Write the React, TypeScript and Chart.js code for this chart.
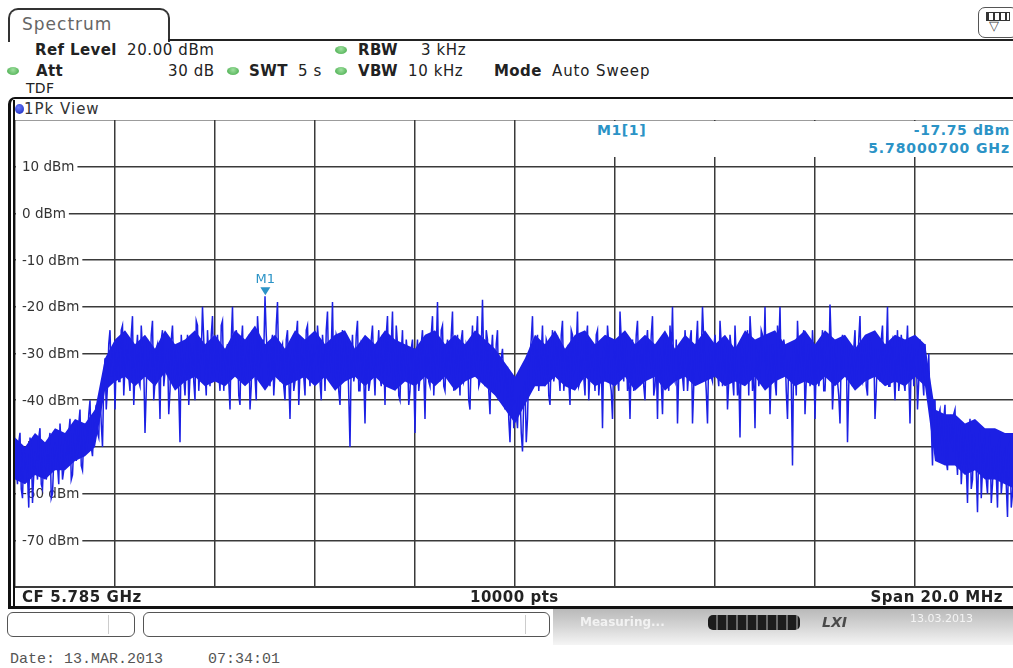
import { useEffect, useRef } from "react"
import { Chart, registerables } from "chart.js"
import type { Plugin } from "chart.js"

Chart.register(...registerables)

// Sweep settings (frequency offsets in MHz from the centre frequency)
const centerGHz = 5.785
const spanStartMHz = -10
const pointStepMHz = 0.05
const coreStepMHz = 0.2

// Peak trace levels in dBm, one array per 2 MHz grid division (left to right).
// "a" samples sit on the 0.05 MHz grid, "b" samples half a step later.
const div1a = [
  -50, -58, -47, -61, -52, -56, -48, -62, -51, -57,
  -46, -59, -50, -55, -47, -60, -49, -54, -45, -57,
  -48, -53, -44, -56, -46, -51, -42, -55, -45, -49,
  -40, -52, -43, -47, -38, -50, -31, -37, -25, -33,
]
const div1b = [
  -55, -49, -59, -51, -54, -63, -50, -56, -53, -48,
  -58, -52, -57, -49, -61, -53, -51, -58, -50, -55,
  -52, -47, -57, -50, -53, -45, -54, -48, -51, -43,
  -50, -46, -41, -48, -45, -36, -42, -28, -35, -29,
]
const div2a = [
  -42, -28, -36, -24, -33, -27, -38, -22, -34, -26,
  -37, -29, -47, -27, -35, -23, -36, -28, -44, -25,
  -34, -29, -38, -24, -36, -30, -49, -31, -39, -26,
  -35, -28, -40, -24, -33, -20, -34, -25, -37, -22,
]
const div2b = [
  -31, -36, -25, -39, -29, -35, -26, -41, -30, -36,
  -24, -33, -38, -31, -26, -40, -29, -34, -27, -37,
  -31, -43, -27, -33, -29, -38, -26, -35, -32, -41,
  -28, -36, -23, -38, -30, -27, -39, -31, -26, -35,
]
const div3a = [
  -35, -26, -38, -23, -33, -28, -42, -20, -34, -27,
  -41, -24, -36, -29, -42, -25, -35, -22, -33, -27,
  -17.75, -31, -37, -26, -34, -19, -36, -28, -40, -25,
  -44, -29, -36, -23, -34, -27, -39, -24, -37, -28,
]
const div3b = [
  -29, -34, -24, -38, -30, -36, -27, -33, -25, -39,
  -28, -35, -31, -26, -37, -30, -40, -27, -36, -30,
  -26, -35, -28, -39, -24, -33, -29, -37, -27, -35,
  -31, -38, -26, -41, -30, -35, -25, -33, -30, -36,
]
const div4a = [
  -30, -24, -36, -26, -38, -21, -33, -19, -37, -27,
  -41, -25, -35, -28, -50, -26, -34, -23, -38, -29,
  -45, -27, -36, -24, -39, -30, -35, -26, -41, -22,
  -33, -21, -37, -28, -40, -25, -34, -30, -38, -27,
]
const div4b = [
  -33, -28, -40, -30, -25, -35, -29, -36, -26, -38,
  -30, -33, -27, -39, -31, -36, -26, -38, -28, -35,
  -31, -38, -27, -33, -29, -25, -37, -31, -26, -35,
  -28, -36, -24, -39, -30, -36, -27, -41, -29, -34,
]
const div5a = [
  -47, -27, -35, -25, -44, -28, -37, -22, -33, -19,
  -36, -24, -38, -27, -34, -21, -36, -26, -39, -25,
  -35, -29, -42, -24, -33, -22, -36, -18.5, -37, -27,
  -43, -26, -38, -25, -36, -29, -42, -33, -49, -35,
]
const div5b = [
  -31, -38, -28, -34, -30, -36, -26, -39, -29, -33,
  -25, -37, -30, -35, -26, -38, -30, -33, -27, -36,
  -28, -40, -30, -35, -27, -37, -29, -32, -25, -38,
  -30, -35, -28, -40, -31, -36, -33, -44, -38, -46,
]
const div6a = [
  -40, -46, -38, -51, -36, -44, -30, -22, -35, -26,
  -33, -24, -37, -28, -41, -25, -34, -27, -38, -23,
  -35, -29, -41, -26, -33, -21, -36, -27, -39, -24,
  -34, -28, -38, -25, -35, -46, -30, -24, -36, -44,
]
const div6b = [
  -43, -38, -47, -40, -49, -33, -27, -36, -29, -38,
  -30, -35, -27, -39, -31, -36, -28, -34, -26, -38,
  -30, -36, -25, -34, -29, -37, -31, -35, -27, -40,
  -30, -33, -26, -39, -31, -29, -36, -28, -38, -31,
]
const div7a = [
  -27, -35, -21, -33, -26, -38, -44, -27, -34, -23,
  -36, -28, -40, -25, -33, -22, -37, -44, -29, -43,
  -26, -34, -24, -20, -36, -45, -28, -35, -25, -38,
  -27, -45, -30, -23, -35, -20, -33, -45, -28, -36,
]
const div7b = [
  -31, -38, -27, -36, -29, -34, -31, -38, -26, -35,
  -30, -37, -28, -33, -26, -39, -31, -29, -36, -31,
  -28, -38, -30, -35, -27, -34, -31, -38, -29, -34,
  -25, -37, -28, -34, -30, -27, -38, -30, -35, -29,
]
const div8a = [
  -26, -34, -23, -37, -28, -42, -26, -35, -24, -39,
  -48, -29, -36, -25, -22, -38, -46, -30, -35, -26,
  -20, -34, -43, -28, -36, -24, -20, -35, -29, -44,
  -31, -54, -33, -23, -36, -27, -43, -30, -37, -25,
]
const div8b = [
  -31, -37, -28, -33, -30, -36, -29, -39, -31, -34,
  -28, -36, -30, -39, -27, -33, -29, -37, -25, -32,
  -36, -28, -34, -30, -39, -29, -35, -27, -38, -31,
  -36, -28, -39, -30, -33, -25, -36, -28, -35, -31,
]
const div9a = [
  -44, -28, -35, -25, -38, -27, -19.5, -42, -30, -36,
  -45, -26, -34, -49, -29, -37, -25, -33, -22, -36,
  -28, -39, -26, -35, -44, -29, -36, -24, -34, -20,
  -37, -27, -40, -25, -35, -29, -38, -24, -45, -28,
]
const div9b = [
  -32, -37, -29, -38, -31, -35, -28, -36, -27, -39,
  -30, -34, -28, -37, -33, -29, -36, -27, -35, -30,
  -37, -26, -33, -29, -38, -31, -27, -35, -30, -37,
  -28, -34, -31, -38, -26, -36, -30, -34, -31, -37,
]
const div10a = [
  -33, -42, -27, -35, -28, -37, -41, -54, -40, -49,
  -42, -52, -41, -55, -44, -50, -42, -56, -45, -53,
  -47, -62, -44, -57, -49, -64, -46, -55, -48, -60,
  -47, -58, -50, -63, -48, -57, -51, -65, -49, -60,
]
const div10b = [
  -29, -36, -31, -39, -33, -30, -45, -40, -51, -43,
  -48, -44, -53, -45, -49, -43, -51, -47, -58, -46,
  -54, -49, -59, -47, -55, -50, -61, -49, -57, -51,
  -62, -50, -56, -49, -60, -52, -58, -50, -63, -54,
]

const levelsA = [
  ...div1a, ...div2a, ...div3a, ...div4a, ...div5a,
  ...div6a, ...div7a, ...div8a, ...div9a, ...div10a,
]
const levelsB = [
  ...div1b, ...div2b, ...div3b, ...div4b, ...div5b,
  ...div6b, ...div7b, ...div8b, ...div9b, ...div10b,
]

// Saturated body of the noise band (upper / lower edge, every 0.2 MHz)
const coreUpper = [
  -48, -50, -47, -49, -46, -47, -44, -45, -42, -31,
  -27, -25, -28, -26, -29, -25, -28, -27, -25, -28,
  -26, -29, -25, -27, -24, -28, -26, -29, -25, -27,
  -25, -28, -26, -25, -29, -26, -28, -25, -27, -28,
  -29, -26, -25, -28, -26, -28, -25, -27, -29, -32,
  -35, -31, -26, -28, -25, -29, -26, -25, -28, -26,
  -27, -25, -28, -26, -28, -25, -29, -26, -28, -25,
  -28, -26, -29, -25, -27, -26, -25, -28, -27, -25,
  -28, -25, -27, -26, -29, -26, -25, -28, -26, -27,
  -26, -28, -42, -43, -43, -45, -44, -46, -46, -47,
  -47,
]
const coreLower = [
  -57, -58, -56, -57, -55, -55, -53, -52, -50, -38,
  -36, -35, -37, -35, -37, -34, -38, -36, -35, -37,
  -36, -37, -35, -37, -35, -38, -35, -37, -36, -35,
  -37, -35, -38, -36, -35, -37, -35, -37, -38, -36,
  -37, -35, -37, -35, -38, -36, -35, -37, -39, -42,
  -45, -41, -37, -37, -35, -37, -38, -35, -37, -36,
  -37, -35, -38, -36, -35, -38, -36, -35, -37, -36,
  -35, -37, -36, -37, -35, -38, -36, -35, -37, -36,
  -37, -35, -37, -35, -38, -36, -35, -37, -36, -37,
  -35, -37, -53, -54, -54, -56, -55, -57, -57, -58,
  -59,
]

const yTickLabels = [10, 0, -10, -20, -30, -40, -50, -60, -70]

// Marker M1
const markerFreqMHz = [-4.993]
const markerLevelDbm = [-17.75]

const MARKER_COLOR = "#2b93c6"
const TRACE_COLOR = "rgb(28, 32, 228)"
const GRID_COLOR = "#3a3a3a"

const spectrumOverlay: Plugin<"line"> = {
  id: "spectrumOverlay",
  beforeDatasetsDraw(chart) {
    const { ctx, chartArea, scales } = chart
    ctx.save()
    ctx.font = '13.5px "DejaVu Sans"'
    ctx.textBaseline = "middle"
    yTickLabels.forEach((v) => {
      const y = scales.y.getPixelForValue(v)
      const text = `${v} dBm`
      const w = ctx.measureText(text).width
      ctx.fillStyle = "#fff"
      ctx.fillRect(chartArea.left + 1, y - 8, w + 9, 16)
      ctx.fillStyle = "#333"
      ctx.fillText(text, chartArea.left + 7, y + 1)
    })
    ctx.restore()
  },
  afterDatasetsDraw(chart) {
    const { ctx, scales } = chart
    const x = scales.x.getPixelForValue(markerFreqMHz[0])
    const y = scales.y.getPixelForValue(markerLevelDbm[0])
    ctx.save()
    ctx.fillStyle = MARKER_COLOR
    ctx.beginPath()
    ctx.moveTo(x - 5, y - 9)
    ctx.lineTo(x + 5, y - 9)
    ctx.lineTo(x, y - 1)
    ctx.closePath()
    ctx.fill()
    ctx.font = '13px "DejaVu Sans"'
    ctx.textAlign = "center"
    ctx.textBaseline = "middle"
    ctx.fillText("M1", x, y - 17)
    ctx.restore()
  },
}

function SpectrumChart() {
  const chartRef = useRef<HTMLCanvasElement>(null)
  const chartInstance = useRef<Chart | null>(null)

  useEffect(() => {
    if (!chartRef.current) return
    if (chartInstance.current) chartInstance.current.destroy()

    // interleave the two sample sets into one sweep
    const tracePoints: { x: number; y: number }[] = []
    levelsA.forEach((level, i) => {
      tracePoints.push({ x: spanStartMHz + i * pointStepMHz, y: level })
      tracePoints.push({ x: spanStartMHz + (i + 0.5) * pointStepMHz, y: levelsB[i] })
    })
    const upperPoints = coreUpper.map((level, i) => ({ x: spanStartMHz + i * coreStepMHz, y: level }))
    const lowerPoints = coreLower.map((level, i) => ({ x: spanStartMHz + i * coreStepMHz, y: level }))

    chartInstance.current = new Chart(chartRef.current, {
      type: "line",
      data: {
        datasets: [
          {
            label: "1Pk View",
            data: tracePoints,
            borderColor: TRACE_COLOR,
            borderWidth: 1.5,
            pointRadius: 0,
            tension: 0,
            fill: false,
          },
          {
            label: "core upper",
            data: upperPoints,
            borderWidth: 0,
            backgroundColor: TRACE_COLOR,
            pointRadius: 0,
            tension: 0,
            fill: "+1",
          },
          {
            label: "core lower",
            data: lowerPoints,
            borderWidth: 0,
            pointRadius: 0,
            tension: 0,
            fill: false,
          },
        ],
      },
      options: {
        responsive: true,
        maintainAspectRatio: false,
        animation: false,
        events: [],
        layout: { padding: 0 },
        plugins: {
          legend: { display: false },
          tooltip: { enabled: false },
        },
        scales: {
          x: {
            type: "linear",
            min: -10,
            max: 10,
            ticks: { display: false, stepSize: 2 },
            grid: { color: GRID_COLOR, lineWidth: 1.5, drawTicks: false },
            border: { display: false },
          },
          y: {
            type: "linear",
            min: -80,
            max: 20,
            ticks: { display: false, stepSize: 10 },
            grid: { color: GRID_COLOR, lineWidth: 1.5, drawTicks: false },
            border: { display: false },
          },
        },
      },
      plugins: [spectrumOverlay],
    })

    return () => {
      if (chartInstance.current) {
        chartInstance.current.destroy()
        chartInstance.current = null
      }
    }
  }, [])

  return <canvas ref={chartRef} aria-label="Spectrum trace"></canvas>
}

function Txt(props: {
  x?: number
  right?: number
  cy: number
  size?: number
  bold?: boolean
  color?: string
  spacing?: number
  family?: string
  italic?: boolean
  children: React.ReactNode
}) {
  const size = props.size ?? 15
  const lh = Math.round(size * 1.3)
  return (
    <div
      style={{
        position: "absolute",
        left: props.x,
        right: props.right,
        top: props.cy - lh / 2,
        lineHeight: `${lh}px`,
        fontSize: size,
        fontWeight: props.bold ? "bold" : "normal",
        fontStyle: props.italic ? "italic" : "normal",
        color: props.color ?? "#222",
        letterSpacing: props.spacing ?? 0,
        fontFamily: props.family,
        whiteSpace: "pre",
      }}
    >
      {props.children}
    </div>
  )
}

function Dot({ cx, cy }: { cx: number; cy: number }) {
  return (
    <div
      style={{
        position: "absolute",
        left: cx - 6,
        top: cy - 4,
        width: 12,
        height: 8,
        borderRadius: "50%",
        background: "radial-gradient(circle at 50% 35%, #9fe09f, #3fa745)",
      }}
    />
  )
}

export default function App() {
  const markerFreqGHz = (centerGHz + markerFreqMHz[0] / 1000).toFixed(8)
  return (
    <div
      style={{
        position: "fixed",
        left: 0,
        top: 0,
        width: 1013,
        height: 668,
        overflow: "hidden",
        background: "#fff",
        fontFamily: '"DejaVu Sans", sans-serif',
      }}
    >
      {/* tab */}
      <div
        style={{
          position: "absolute",
          left: 8,
          top: 8,
          width: 162,
          height: 34,
          boxSizing: "border-box",
          border: "2px solid #333",
          borderBottom: "none",
          borderRadius: "10px 10px 0 0",
        }}
      />
      <Txt x={22} cy={24} size={17} color="#666" spacing={1}>
        Spectrum
      </Txt>
      <div style={{ position: "absolute", left: 168, top: 39, width: 850, height: 2, background: "#222" }} />
      {/* top-right icon */}
      <div
        style={{
          position: "absolute",
          left: 978,
          top: 7,
          width: 40,
          height: 31,
          boxSizing: "border-box",
          border: "1.5px solid #555",
          borderRadius: 7,
        }}
      >
        <div
          style={{
            position: "absolute",
            left: 7,
            top: 4,
            width: 22,
            height: 7,
            background: "repeating-linear-gradient(to right, #333 0 2px, #fff 2px 6px)",
            border: "1px solid #333",
          }}
        />
        <div style={{ position: "absolute", left: 10, top: 10, fontSize: 13, color: "#444" }}>▽</div>
      </div>

      {/* header */}
      <Txt x={35} cy={50} bold spacing={0.4}>Ref Level</Txt>
      <Txt x={127} cy={50} spacing={0.6}>20.00 dBm</Txt>
      <Dot cx={341} cy={50} />
      <Txt x={358} cy={50} bold spacing={0.4}>RBW</Txt>
      <Txt x={421} cy={50} spacing={0.6}>3 kHz</Txt>

      <Dot cx={13} cy={71} />
      <Txt x={36} cy={71} bold spacing={0.4}>Att</Txt>
      <Txt x={168} cy={71} spacing={0.6}>30 dB</Txt>
      <Dot cx={233} cy={71} />
      <Txt x={249} cy={71} bold spacing={0.4}>SWT</Txt>
      <Txt x={298} cy={71} spacing={0.6}>5 s</Txt>
      <Dot cx={341} cy={71} />
      <Txt x={358} cy={71} bold spacing={0.4}>VBW</Txt>
      <Txt x={408} cy={71} spacing={0.6}>10 kHz</Txt>
      <Txt x={494} cy={71} bold spacing={0.4}>Mode</Txt>
      <Txt x={552} cy={71} spacing={0.9}>Auto Sweep</Txt>
      <Txt x={26} cy={88} size={14} spacing={0.3}>TDF</Txt>

      {/* view frame */}
      <div
        style={{
          position: "absolute",
          left: 8,
          top: 97,
          width: 1020,
          height: 512,
          boxSizing: "border-box",
          borderTop: "2px solid #111",
          borderLeft: "3px solid #111",
          borderBottom: "3px solid #111",
          borderTopLeftRadius: 7,
        }}
      />
      <div style={{ position: "absolute", left: 13, top: 100, width: 2, height: 506, background: "#111" }} />
      <div
        style={{
          position: "absolute",
          left: 15,
          top: 104,
          width: 9,
          height: 10,
          borderRadius: "50%",
          background: "radial-gradient(circle at 40% 35%, #6b7cff, #1424b8)",
        }}
      />
      <Txt x={24} cy={109} size={15} spacing={1} color="#333">1Pk View</Txt>

      {/* plot */}
      <div style={{ position: "absolute", left: 15, top: 120, width: 1000, height: 467 }}>
        <SpectrumChart />
      </div>
      <div style={{ position: "absolute", left: 15, top: 586, width: 998, height: 1.5, background: GRID_COLOR }} />

      {/* marker readout */}
      <div style={{ position: "absolute", left: 562, top: 121, width: 451, height: 36, background: "#fff" }} />
      <Txt x={597} cy={130} size={14} bold color={MARKER_COLOR} spacing={0.6}>M1[1]</Txt>
      <Txt right={3} cy={130} size={14} bold color={MARKER_COLOR} spacing={0.6}>
        {`${markerLevelDbm[0].toFixed(2)} dBm`}
      </Txt>
      <Txt right={3} cy={148} size={14} bold color={MARKER_COLOR} spacing={0.9}>
        {`${markerFreqGHz} GHz`}
      </Txt>

      {/* footer of the plot */}
      <Txt x={22} cy={597} size={15} bold spacing={0.6}>{`CF ${centerGHz.toFixed(3)} GHz`}</Txt>
      <Txt x={470} cy={597} size={15} bold spacing={0.5}>10000 pts</Txt>
      <Txt right={10} cy={597} size={15} bold spacing={0.5}>Span 20.0 MHz</Txt>

      {/* status bar */}
      <div
        style={{
          position: "absolute",
          left: 553,
          top: 609,
          width: 460,
          height: 36,
          background: "linear-gradient(to bottom, #b9b9b9 0%, #d6d6d6 50%, #f5f5f5 100%)",
        }}
      />
      <div
        style={{
          position: "absolute",
          left: 7,
          top: 612,
          width: 128,
          height: 25,
          boxSizing: "border-box",
          border: "1px solid #555",
          borderRadius: 6,
        }}
      >
        <div style={{ position: "absolute", left: 100, top: 2, width: 1, height: 19, background: "#ccc" }} />
      </div>
      <div
        style={{
          position: "absolute",
          left: 143,
          top: 612,
          width: 407,
          height: 25,
          boxSizing: "border-box",
          border: "1px solid #555",
          borderRadius: 6,
        }}
      >
        <div style={{ position: "absolute", left: 381, top: 2, width: 1, height: 19, background: "#ccc" }} />
      </div>
      <Txt x={580} cy={622} size={12} bold color="#f2f2f2">Measuring...</Txt>
      <div
        style={{
          position: "absolute",
          left: 708,
          top: 615,
          width: 92,
          height: 15,
          borderRadius: 5,
          background: "repeating-linear-gradient(to right, #1c1c1c 0 8px, #6a6a6a 8px 10px)",
        }}
      />
      <Txt x={822} cy={622} size={14} bold italic color="#4a4a4a">LXI</Txt>
      <Txt x={910} cy={619} size={11} color="#f4f4f4">13.03.2013</Txt>

      {/* print date */}
      <Txt x={10} cy={660} size={15} color="#555" family='"Liberation Mono", monospace'>
        Date: 13.MAR.2013     07:34:01
      </Txt>
    </div>
  )
}
